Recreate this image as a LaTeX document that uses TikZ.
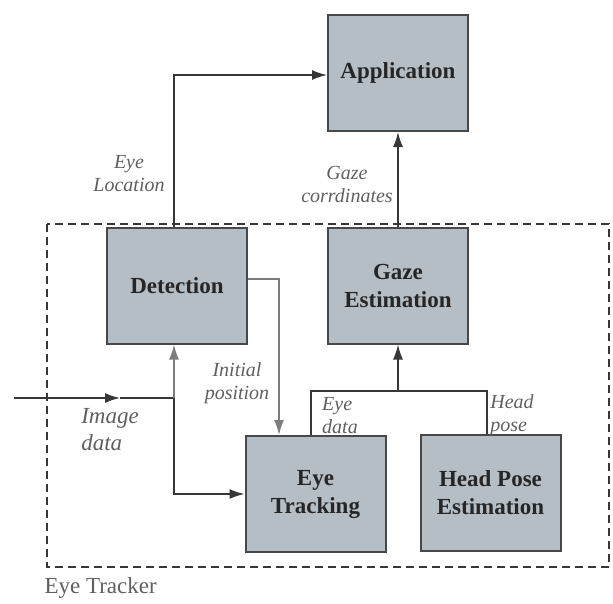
\documentclass[tikz,border=0pt]{standalone}
\usepackage{fontspec}
\setmainfont{Liberation Serif}
\usetikzlibrary{arrows.meta}
\usetikzlibrary{positioning}

\definecolor{boxfill}{RGB}{181,190,196}
\definecolor{boxline}{RGB}{70,72,74}
\definecolor{wire}{RGB}{55,55,55}
\definecolor{lightwire}{RGB}{125,125,125}
\definecolor{labelgray}{RGB}{95,95,95}

\tikzset{
  block/.style={draw=boxline, line width=2pt, fill=boxfill, inner sep=0pt,
    minimum width=140pt, minimum height=116pt, align=center,
    font=\fontsize{23}{28}\selectfont\bfseries, text=black!85},
  flow/.style={draw=wire, line width=1.6pt, -{Latex[length=15pt,width=10pt]}},
  lightflow/.style={draw=lightwire, line width=1.6pt, -{Latex[length=15pt,width=10pt]}},
  edgelabel/.style={align=center, text=labelgray, inner sep=0pt,
    font=\fontsize{20}{23}\selectfont\itshape},
}

\begin{document}
\begin{tikzpicture}[x=1pt, y=-1pt]

    \useasboundingbox (0,0) rectangle (613,603);

    % eye tracker frame
    \draw[wire, line width=1.5pt, dash pattern=on 8pt off 5pt] (47,224) rectangle (609,567);
    \node (Tracker) [anchor=west, text=labelgray, font=\fontsize{23}{25}\selectfont] at (41,588) {Eye Tracker};

    \node (Application) [block] at (398,73) {Application};
    \node (Detection) [block] at (177,285.5) {Detection};
    \node (Gaze) [block] at (398,285.5) {Gaze\\Estimation};
    \node (Tracking) [block] at (315.5,494) {Eye\\Tracking};
    \node (HeadPose) [block] at (490.5,492.5) {Head Pose\\Estimation};

    \coordinate (ImageIn) at (14,398);
    \coordinate (ImageMid) at (120,398);
    \coordinate (Split) at (174,398);
    \coordinate (Join) at (398,391);

    \draw[flow] (Detection.north -| 174,0) |- (Application.west |- 0,75);
    \draw[flow] (Gaze) -- (Application);
    \draw[lightflow] (Detection.east |- 0,279) -| (Tracking.north -| 279,0);
    \draw[flow] (ImageIn) -- (ImageMid);
    \draw[wire, line width=1.6pt] (ImageMid) -- (Split);
    \draw[lightflow] (Split) -- (Detection.south -| Split);
    \draw[flow] (Split) |- (Tracking.west |- 0,494);
    \draw[wire, line width=1.6pt] (Tracking.north -| 311,0) |- (Join) -| (HeadPose.north -| 487,0);
    \draw[flow] (Join) -- (Gaze);

    \node (EyeLocation) [edgelabel] at (129,174) {Eye\\Location};
    \node (GazeCoords) [edgelabel] at (347,184) {Gaze\\corrdinates};
    \node (InitialPos) [edgelabel] at (237,383) {Initial\\position};
    \node (ImageData) [edgelabel, align=left, font=\fontsize{23}{27}\selectfont\itshape] at (110,430) {Image\\data};
    \node (EyeData) [edgelabel, align=left] at (340,416) {Eye\\data};
    \node (HeadData) [edgelabel, align=left] at (512,415) {Head\\pose};

\end{tikzpicture}
\end{document}
